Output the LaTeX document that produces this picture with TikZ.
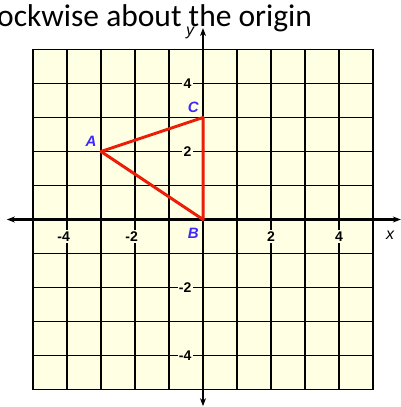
\documentclass[tikz,border=0pt]{standalone}
\usepackage{fontspec}
\setmainfont{Liberation Sans}
\newfontfamily\titlefont{Carlito}
\usetikzlibrary{arrows.meta}
\definecolor{gridbg}{RGB}{255,255,228}
\definecolor{tri}{RGB}{235,30,10}
\definecolor{ptlab}{RGB}{60,40,255}
\begin{document}
\begin{tikzpicture}[x=34pt,y=34pt,
  gridline/.style={line width=1.6pt,black},
  axisline/.style={line width=2.6pt,black,{Stealth[length=8pt,width=6pt]}-{Stealth[length=8pt,width=6pt]}},
  ticklab/.style={font=\fontsize{14}{14}\selectfont\bfseries,fill=gridbg,inner sep=1.2pt},
  ptlabel/.style={font=\fontsize{15}{15}\selectfont\bfseries\itshape,text=ptlab,inner sep=0pt},
  axlabel/.style={font=\fontsize{16}{16}\selectfont\itshape,inner sep=0pt},
  triline/.style={line width=3pt,tri,line join=round}]
\useasboundingbox (-5.9706,-5.5147) rectangle (5.8235,6.4559);
% title (clipped at left)
\node[anchor=base west,inner sep=0pt,font=\titlefont\fontsize{31.5}{31.5}\selectfont] (title) at (-6.06,5.69) {ockwise about the origin};
% grid
\fill[gridbg] (-5,-5) rectangle (5,5);
\draw[gridline,step=34pt] (-5,-5) grid (5,5);
% tick labels
\node[ticklab] (xm4) at (-4.1,-0.5) {-4};
\node[ticklab] (xm2) at (-2.1,-0.5) {-2};
\node[ticklab] (xp2) at (2,-0.5) {2};
\node[ticklab] (xp4) at (4,-0.5) {4};
\node[ticklab,anchor=east] (yp4) at (-0.3,4) {4};
\node[ticklab,anchor=east] (yp2) at (-0.3,2) {2};
\node[ticklab,anchor=east] (ym2) at (-0.3,-2) {-2};
\node[ticklab,anchor=east] (ym4) at (-0.3,-4) {-4};
% axes
\coordinate (xl) at (-5.77,0);
\coordinate (xr) at (5.82,0);
\coordinate (yb) at (0,-5.49);
\coordinate (yt) at (0,5.63);
\draw[axisline] (xl) -- (xr);
\draw[axisline] (yb) -- (yt);
\node[axlabel] (xlab) at (5.5,-0.46) {x};
\node[axlabel] (ylab) at (-0.38,5.49) {y};
% triangle
\coordinate (A) at (-3,2);
\coordinate (B) at (0,0);
\coordinate (C) at (0,3);
\draw[triline] (A) -- (B) -- (C) -- cycle;
\node[ptlabel] (Alab) at (-3.29,2.29) {A};
\node[ptlabel] (Blab) at (-0.285,-0.41) {B};
\node[ptlabel] (Clab) at (-0.285,3.29) {C};
\end{tikzpicture}
\end{document}
